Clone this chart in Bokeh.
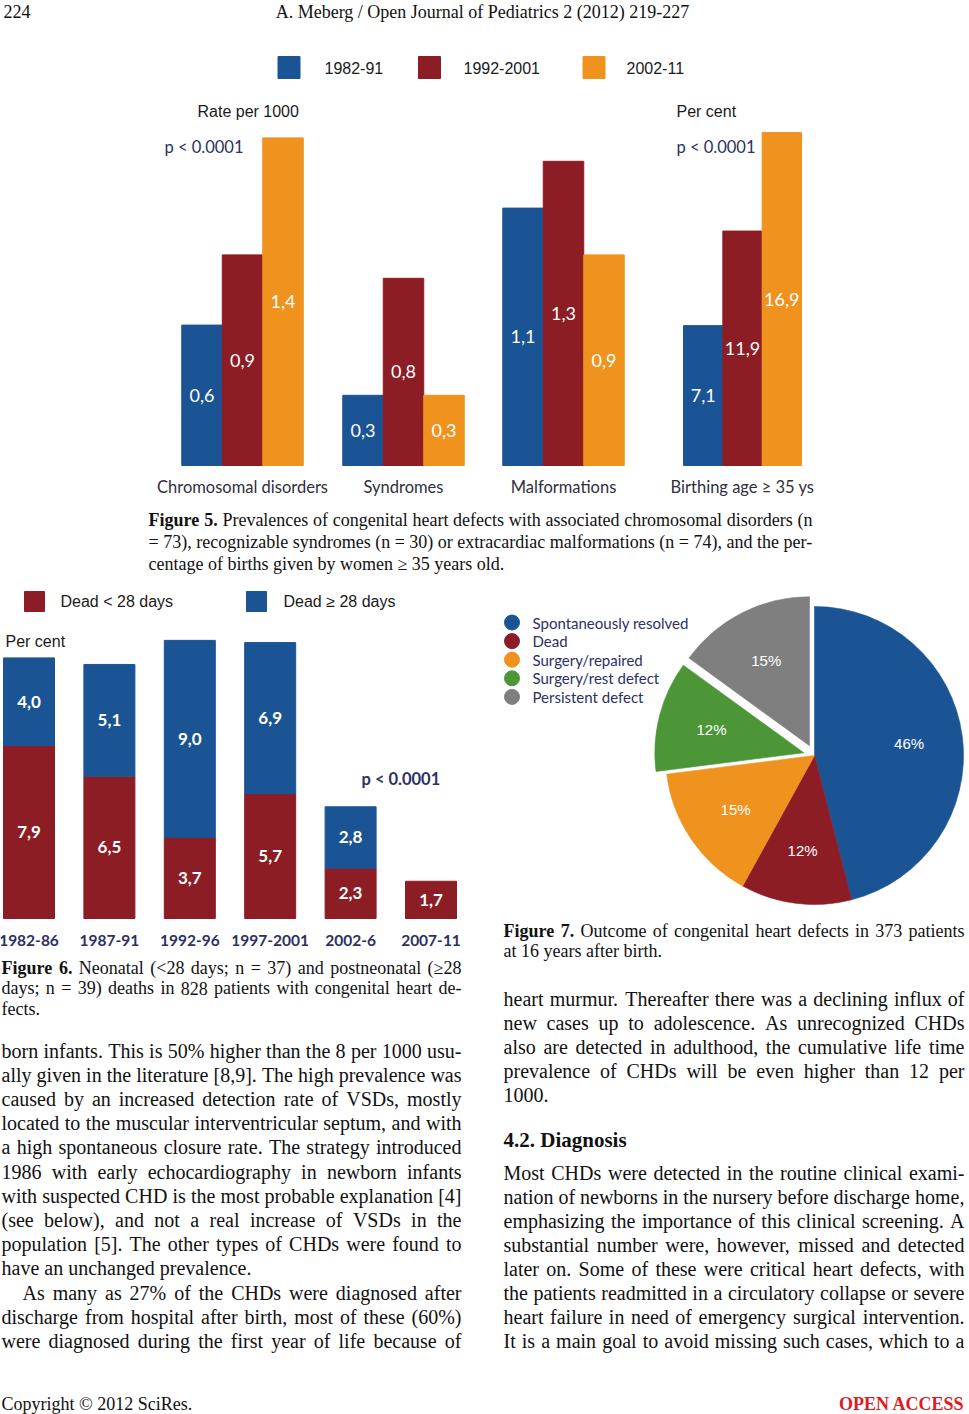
import numpy as np
from bokeh.plotting import figure
from bokeh.models import Range1d, ColumnDataSource
from bokeh.core.properties import value
from bokeh.embed import file_html
from bokeh.resources import INLINE

# ---------------------------------------------------------------- data
fig5_groups = ["Chromosomal disorders", "Syndromes", "Malformations", "Birthing age \u2265 35 ys"]
fig5_periods = ["1982-91", "1992-2001", "2002-11"]
fig5_rate_1982_91 = [0.6, 0.3, 1.1]      # rate per 1000 (first three groups)
fig5_rate_1992_2001 = [0.9, 0.8, 1.3]
fig5_rate_2002_11 = [1.4, 0.3, 0.9]
fig5_birthing_pct = [7.1, 11.9, 16.9]     # per cent, one per period

fig6_periods = ["1982-86", "1987-91", "1992-96", "1997-2001", "2002-6", "2007-11"]
fig6_dead_lt28 = [7.9, 6.5, 3.7, 5.7, 2.3, 1.7]
fig6_dead_ge28 = [4.0, 5.1, 9.0, 6.9, 2.8, 0.0]

fig7_outcomes = ["Spontaneously resolved", "Dead", "Surgery/repaired",
                 "Surgery/rest defect", "Persistent defect"]
fig7_percent = [46, 12, 15, 12, 15]

# ---------------------------------------------------------------- page text
header_left = "224"
header_title = "A. Meberg / Open Journal of Pediatrics 2 (2012) 219-227"
footer_left = "Copyright \u00a9 2012 SciRes."
footer_right = "OPEN ACCESS"

cap5 = [("Figure 5. Prevalences of congenital heart defects with associated chromosomal disorders (n", True),
        ("= 73), recognizable syndromes (n = 30) or extracardiac malformations (n = 74), and the per-", True),
        ("centage of births given by women \u2265 35 years old.", False)]
cap6 = [("Figure 6. Neonatal (<28 days; n = 37) and postneonatal (\u226528", True),
        ("days; n = 39) deaths in 828 patients with congenital heart de-", True),
        ("fects.", False)]
cap7 = [("Figure 7. Outcome of congenital heart defects in 373 patients", True),
        ("at 16 years after birth.", False)]
left_body = [
    ("born infants. This is 50% higher than the 8 per 1000 usu-", True),
    ("ally given in the literature [8,9]. The high prevalence was", True),
    ("caused by an increased detection rate of VSDs, mostly", True),
    ("located to the muscular interventricular septum, and with", True),
    ("a high spontaneous closure rate. The strategy introduced", True),
    ("1986 with early echocardiography in newborn infants", True),
    ("with suspected CHD is the most probable explanation [4]", True),
    ("(see below), and not a real increase of VSDs in the", True),
    ("population [5]. The other types of CHDs were found to", True),
    ("have an unchanged prevalence.", False),
    ("\tAs many as 27% of the CHDs were diagnosed after", True),
    ("discharge from hospital after birth, most of these (60%)", True),
    ("were diagnosed during the first year of life because of", True),
]
right_body_a = [
    ("heart murmur. Thereafter there was a declining influx of", True),
    ("new cases up to adolescence. As unrecognized CHDs", True),
    ("also are detected in adulthood, the cumulative life time", True),
    ("prevalence of CHDs will be even higher than 12 per", True),
    ("1000.", False),
]
right_heading = "4.2. Diagnosis"
right_body_b = [
    ("Most CHDs were detected in the routine clinical exami-", True),
    ("nation of newborns in the nursery before discharge home,", True),
    ("emphasizing the importance of this clinical screening. A", True),
    ("substantial number were, however, missed and detected", True),
    ("later on. Some of these were critical heart defects, with", True),
    ("the patients readmitted in a circulatory collapse or severe", True),
    ("heart failure in need of emergency surgical intervention.", True),
    ("It is a main goal to avoid missing such cases, which to a", True),
]

# ---------------------------------------------------------------- layout / style
W_REF, H_REF = 969.0, 1414.0
PW, PH = 969, 1414
SX = PW / W_REF

SERIF, SANS, HUMAN = "Liberation Serif", "Liberation Sans", "Lato"
BLUE, RED, ORANGE, GREEN, GRAY = "#1b5494", "#8c1d25", "#f0921e", "#4c9638", "#7f7f7f"
NAVY = "#2b3163"
DARK = "#2f2f3d"


def Y(ry):
    return H_REF - ry


def px(s):
    return f"{s * SX:.2f}px"


def value_range(base_ry, px_per_unit):
    return Range1d(start=-(H_REF - base_ry) / px_per_unit, end=base_ry / px_per_unit)


# Times metrics (1/1000 em)
_R = {" ": 250, "!": 333, '"': 408, "%": 833, "&": 778, "'": 333, "(": 333, ")": 333,
      "+": 564, ",": 250, "-": 333, ".": 250, "/": 278, ":": 278, ";": 278, "<": 564,
      "=": 564, ">": 564, "?": 444, "[": 333, "]": 333, "\u2265": 549, "\u00a9": 760}
_B = {" ": 250, "%": 1000, "(": 333, ")": 333, ",": 250, "-": 333, ".": 250, ":": 333, ";": 333}
for c in "0123456789":
    _R[c] = 500
    _B[c] = 500
_R.update(zip("ABCDEFGHIJKLMNOPQRSTUVWXYZ",
              [722, 667, 667, 722, 611, 556, 722, 722, 333, 389, 722, 611, 889, 722, 722, 556, 722, 667, 556, 611, 722, 722, 944, 722, 722, 611]))
_R.update(zip("abcdefghijklmnopqrstuvwxyz",
              [444, 500, 444, 500, 444, 333, 500, 500, 278, 278, 500, 278, 778, 500, 500, 500, 500, 333, 389, 278, 500, 500, 722, 500, 500, 444]))
_B.update(zip("ABCDEFGHIJKLMNOPQRSTUVWXYZ",
              [722, 667, 722, 722, 667, 611, 778, 778, 389, 500, 778, 667, 944, 722, 778, 611, 778, 722, 556, 667, 722, 722, 1000, 722, 722, 667]))
_B.update(zip("abcdefghijklmnopqrstuvwxyz",
              [500, 556, 444, 556, 444, 333, 500, 556, 278, 333, 556, 278, 833, 556, 500, 556, 556, 444, 389, 333, 556, 500, 722, 500, 500, 444]))


def text_w(s, size, bold=False):
    t = _B if bold else _R
    return sum(t.get(c, 500) for c in s) * size / 1000.0


p = figure(width=PW, height=PH, x_range=Range1d(0, W_REF), y_range=Range1d(0, H_REF),
           output_backend="svg", toolbar_location=None, min_border=0,
           x_axis_location=None, y_axis_location=None)
p.xgrid.visible = False
p.ygrid.visible = False
p.outline_line_color = None
p.background_fill_color = "white"
p.border_fill_color = "white"

_groups = {}


def put(x, ry, txt, size, font=SERIF, style="normal", color="#111111", align="left"):
    key = (font, size, style, color, align)
    g = _groups.setdefault(key, {"x": [], "y": [], "text": []})
    g["x"].append(x)
    g["y"].append(Y(ry))
    g["text"].append(txt)


def flush():
    for (font, size, style, color, align), g in _groups.items():
        p.text(x="x", y="y", text="text", source=ColumnDataSource(g),
               text_font=value(font), text_font_size=value(px(size)), text_font_style=style,
               text_color=color, text_align=align, text_baseline="middle")


def set_block(lines, x0, x1, ry0, dy, size, bold_words=0, indent=21.0):
    for k, (line, just) in enumerate(lines):
        lx0 = x0
        if line.startswith("\t"):
            lx0 += indent
            line = line[1:]
        words = line.split(" ")
        bold = [k == 0 and i < bold_words for i in range(len(words))]
        ws = [text_w(w, size, b) for w, b in zip(words, bold)]
        if just and len(words) > 1:
            gap = (x1 - lx0 - sum(ws)) / (len(words) - 1)
        else:
            gap = text_w(" ", size)
        x = lx0
        for w, b, wd in zip(words, bold, ws):
            put(x, ry0 + k * dy, w, size, style="bold" if b else "normal")
            x += wd + gap


# ---------------------------------------------------------------- header / footer
put(3, 11, header_left, 18)
put(482, 11, header_title, 18, align="center")
put(1, 1403, footer_left, 18)
put(964, 1403, footer_right, 18, style="bold", color="#e01b22", align="right")

# ---------------------------------------------------------------- Figure 5
F5_BASE = 465
p.extra_y_ranges = {"f5r": value_range(F5_BASE, 234.0),
                    "f5p": value_range(F5_BASE, 19.7),
                    "f6": value_range(918, 21.9)}
F6_X0, F6_STEP, F6_BAR_W = 28.5, 80.4, 51.0
p.extra_x_ranges = {"f6x": Range1d(start=-F6_X0 / F6_STEP, end=(W_REF - F6_X0) / F6_STEP)}

F5_CENTERS = [242, 403, 563, 742]
F5_W = [40.5, 40.5, 40.5, 39.3]
F5_COLORS = [BLUE, RED, ORANGE]
rate_series = [fig5_rate_1982_91, fig5_rate_1992_2001, fig5_rate_2002_11]


def fmt(v):
    return f"{v:.1f}".replace(".", ",")


for j, (vals, col) in enumerate(zip(rate_series, F5_COLORS)):
    xs = [F5_CENTERS[i] + (j - 1) * F5_W[i] for i in range(3)]
    p.vbar(x=xs, bottom=0, top=vals, width=F5_W[0], color=col, y_range_name="f5r")
    p.text(x=xs, y=[v / 2 for v in vals], text=[fmt(v) for v in vals], y_range_name="f5r",
           text_font=value(HUMAN), text_font_size=value(px(18)), text_color="white",
           text_align="center", text_baseline="middle")

xs_b = [F5_CENTERS[3] + (j - 1) * F5_W[3] for j in range(3)]
p.vbar(x=xs_b, bottom=0, top=fig5_birthing_pct, width=F5_W[3], color=F5_COLORS, y_range_name="f5p")
p.text(x=xs_b, y=[v / 2 for v in fig5_birthing_pct], text=[fmt(v) for v in fig5_birthing_pct],
       y_range_name="f5p", text_font=value(HUMAN), text_font_size=value(px(18)), text_color="white",
       text_align="center", text_baseline="middle")

# legend
leg5_sq_x = [288.5, 429, 593.5]
leg5_tx_x = [324, 463, 626]
p.rect(x=leg5_sq_x, y=[Y(67)] * 3, width=22, height=22, color=F5_COLORS)
for x, t in zip(leg5_tx_x, fig5_periods):
    put(x, 67, t, 16, font=SANS, color="#1a1a1a")
put(197, 111, "Rate per 1000", 16, font=SANS, color="#1a1a1a")
put(676, 111, "Per cent", 16, font=SANS, color="#1a1a1a")
put(164, 146, "p < 0.0001", 16.5, font=HUMAN, color=NAVY)
put(676, 146, "p < 0.0001", 16.5, font=HUMAN, color=NAVY)
for c, g in zip(F5_CENTERS, fig5_groups):
    put(c, 486, g, 16.5, font=HUMAN, color=DARK, align="center")

set_block(cap5, 148, 812, 519, 22, 18, bold_words=2)

# ---------------------------------------------------------------- Figure 6
idx = np.arange(len(fig6_periods))
lt = np.array(fig6_dead_lt28)
ge = np.array(fig6_dead_ge28)
bw = F6_BAR_W / F6_STEP
p.vbar(x=idx, bottom=0, top=lt, width=bw, color=RED, x_range_name="f6x", y_range_name="f6")
m = ge > 0
p.vbar(x=idx[m], bottom=lt[m], top=(lt + ge)[m], width=bw, color=BLUE, x_range_name="f6x", y_range_name="f6")
p.text(x=idx, y=lt / 2, text=[fmt(v) for v in lt], x_range_name="f6x", y_range_name="f6",
       text_font=value(HUMAN), text_font_size=value(px(17)), text_font_style="bold",
       text_color="white", text_align="center", text_baseline="middle")
p.text(x=idx[m], y=(lt + ge / 2)[m], text=[fmt(v) for v in ge[m]], x_range_name="f6x", y_range_name="f6",
       text_font=value(HUMAN), text_font_size=value(px(17)), text_font_style="bold",
       text_color="white", text_align="center", text_baseline="middle")
p.text(x=idx, y=[Y(940)] * len(idx), text=fig6_periods, x_range_name="f6x",
       text_font=value(HUMAN), text_font_size=value(px(15.5)), text_font_style="bold",
       text_color=NAVY, text_align="center", text_baseline="middle")

p.rect(x=[34, 256], y=[Y(601)] * 2, width=20, height=20, color=[RED, BLUE])
put(60, 601, "Dead < 28 days", 16, font=SANS, color="#1a1a1a")
put(283, 601, "Dead \u2265 28 days", 16, font=SANS, color="#1a1a1a")
put(5, 641, "Per cent", 16, font=SANS, color="#1a1a1a")
put(361, 778, "p < 0.0001", 16.5, font=HUMAN, style="bold", color=NAVY)

set_block(cap6, 1, 461, 967, 20.5, 18, bold_words=2)

# ---------------------------------------------------------------- Figure 7 (pie)
PIE_CX, PIE_CY, PIE_R, EXPLODE = 814.0, 755.0, 149.0, 11.0
PIE_COLORS = [BLUE, RED, ORANGE, GREEN, GRAY]
pie_exploded = np.array([0, 0, 0, 1, 1])
frac = np.array(fig7_percent, dtype=float) / sum(fig7_percent)
cum = np.cumsum(frac)
start = np.concatenate([[0.0], cum[:-1]])
a0 = np.pi / 2 - 2 * np.pi * start
a1 = np.pi / 2 - 2 * np.pi * cum
mid = (a0 + a1) / 2
off = EXPLODE * pie_exploded
cx = PIE_CX + off * np.cos(mid)
cy = Y(PIE_CY) + off * np.sin(mid)
p.wedge(x=cx, y=cy, radius=PIE_R, start_angle=a0, end_angle=a1, direction="clock",
        fill_color=PIE_COLORS, line_color=PIE_COLORS, line_width=0.6)
p.text(x=cx + 0.64 * PIE_R * np.cos(mid), y=cy + 0.64 * PIE_R * np.sin(mid),
       text=[f"{v}%" for v in fig7_percent], text_font=value(SANS), text_font_size=value(px(15)),
       text_color="white", text_align="center", text_baseline="middle")

leg7_y = [622 + 18.6 * k for k in range(len(fig7_outcomes))]
p.scatter(x=[511.5] * len(leg7_y), y=[Y(v) for v in leg7_y], size=15 * SX, marker="circle",
          color=PIE_COLORS)
for ry, t in zip(leg7_y, fig7_outcomes):
    put(532, ry, t, 15, font=HUMAN, color=NAVY)

set_block(cap7, 503, 964, 930, 20, 18, bold_words=2)

# ---------------------------------------------------------------- body text
set_block(left_body, 1, 461, 1050, 24.2, 20)
set_block(right_body_a, 503, 964, 998, 24.2, 20)
put(503, 1139, right_heading, 21, style="bold")
set_block(right_body_b, 503, 964, 1172, 24.1, 20)

flush()

open("out.html", "w").write(file_html(p, INLINE, "A. Meberg / Open Journal of Pediatrics"))
